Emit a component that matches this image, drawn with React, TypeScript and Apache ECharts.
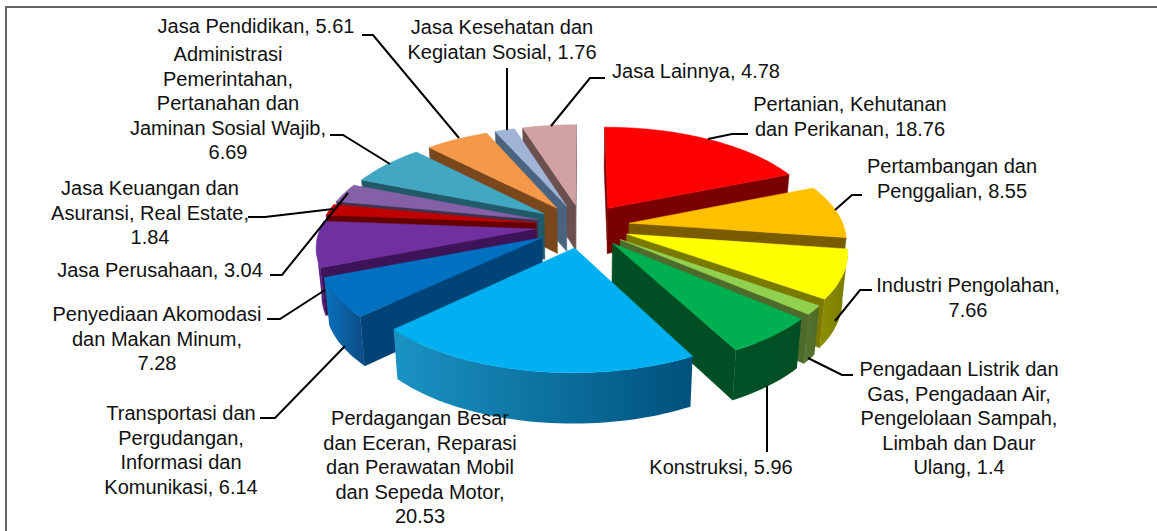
import React, { useEffect, useRef } from "react";
import * as echarts from "echarts";

const categories = [
  "Pertanian, Kehutanan\ndan Perikanan, ",
  "Pertambangan dan\nPenggalian, ",
  "Industri Pengolahan,\n",
  "Pengadaan Listrik dan\nGas, Pengadaan Air,\nPengelolaan Sampah,\nLimbah dan Daur\nUlang, ",
  "Konstruksi, ",
  "Perdagangan Besar\ndan Eceran, Reparasi\ndan Perawatan Mobil\ndan Sepeda Motor,\n",
  "Transportasi dan\nPergudangan,\nInformasi dan\nKomunikasi, ",
  "Penyediaan Akomodasi\ndan Makan Minum,\n",
  "Jasa Keuangan dan\nAsuransi, Real Estate,\n",
  "Jasa Perusahaan, ",
  "Administrasi\nPemerintahan,\nPertanahan dan\nJaminan Sosial Wajib,\n",
  "Jasa Pendidikan, ",
  "Jasa Kesehatan dan\nKegiatan Sosial, ",
  "Jasa Lainnya, ",
];
const values = [18.76, 8.55, 7.66, 1.4, 5.96, 20.53, 6.14, 7.28, 1.84, 3.04, 6.69, 5.61, 1.76, 4.78];
const topColors = ["#FF0000", "#FFC000", "#FFFF00", "#92D050", "#00B050", "#00B0F0", "#0070C0", "#7030A0", "#C00000", "#8460A6", "#42A7C3", "#F49849", "#A0B4D6", "#D0A2A2"];
const innerColors = ["#7A0000", "#7A5C00", "#7A7A00", "#4F6B2B", "#004F24", "#005A80", "#004376", "#3D1458", "#640000", "#40324F", "#215A68", "#7A471C", "#4A6480", "#6C4F4F"];
const outerFrom = ["#7A0000", "#7A5C00", "#8E8E00", "#56742F", "#005028", "#1A93C4", "#0A72BE", "#5E2388", "#FF0000", "#40324F", "#215A68", "#7A471C", "#4A6480", "#6C4F4F"];
const outerTo = ["#7A0000", "#7A5C00", "#7A7A00", "#4F6B2B", "#004F24", "#00517C", "#0B4C84", "#4A1A70", "#C00000", "#40324F", "#215A68", "#7A471C", "#4A6480", "#6C4F4F"];

const labelBoxes = [
  [850, 92], [952, 154], [968, 273], [959, 357], [721, 455], [420, 406], [181, 401], [157, 302], [150, 176], [160, 258], [228, 42], [256, 14], [502, 15], [696, 59],
];
const leaderLines = [
  [[748, 134], [732, 134], [708, 139]],
  [[862, 195], [852, 195], [835, 210]],
  [[872, 290], [860, 290], [835, 321]],
  [[853, 375], [842, 375], [808, 358]],
  [[767, 452], [767, 386]],
  [[260, 418], [275, 418], [345, 346]],
  [[267, 319], [280, 319], [325, 290]],
  [[270, 275], [282, 275], [348, 193]],
  [[248, 217], [265, 217], [333, 209]],
  [[330, 135], [343, 135], [390, 164]],
  [[362, 35], [373, 35], [459, 138]],
  [[507, 68], [507, 130]],
  [[605, 78], [590, 78], [551, 126]],
];

const CX = 582.4, CY = 225.8, RX = 214.5, RY = 98.4, K = 0.152, EXPLODE = 0.22;
const total = values.reduce((a, b) => a + b, 0);
const starts: number[] = [];
values.reduce((acc, v, i) => { starts[i] = acc; return acc + v; }, 0);
const toAngle = (v: number) => (v / total) * Math.PI * 2;
const project = (X: number, Y: number, bottom: boolean): number[] => {
  const s = 1 / (1 - K * Y);
  return [
    CX + RX * X * s * (bottom ? 0.98 : 1),
    CY + RY * Y * s + (bottom ? 46 + 4 * Y : 0),
  ];
};
const mids = values.map((v, i) => toAngle(starts[i] + v / 2));
const order = values.map((_, i) => i).sort((a, b) => -Math.cos(mids[a]) - -Math.cos(mids[b]));

const renderSlice = (params: any, api: any) => {
  const i = params.dataIndex;
  const value = api.value(0);
  const a0 = toAngle(starts[i]);
  const a1 = a0 + toAngle(value);
  const m = (a0 + a1) / 2;
  const ox = EXPLODE * Math.sin(m), oy = -EXPLODE * Math.cos(m);
  const pt = (r: number, t: number, bottom: boolean) =>
    project(ox + r * Math.sin(t), oy - r * Math.cos(t), bottom);
  const steps = Math.max(4, Math.ceil((a1 - a0) / 0.03));
  const angles: number[] = [];
  for (let k = 0; k <= steps; k++) angles.push(a0 + ((a1 - a0) * k) / steps);
  const arcTop = angles.map((t) => pt(1, t, false));
  const apex = pt(0, 0, false);
  const apexB = pt(0, 0, true);
  const rank = order.indexOf(i) * 10;
  const children: any[] = [];
  const poly = (points: number[][], fill: any, z2: number) => {
    const stroke = typeof fill === "string" ? fill : "none";
    children.push({ type: "polygon", shape: { points }, style: { fill, stroke, lineWidth: 0.5 }, z2: rank + z2 });
  };
  const faces = (u: number[], v: number[], inside: number[]) => {
    const dx = v[0] - u[0], dy = v[1] - u[1];
    const crossIn = dx * (inside[1] - u[1]) - dy * (inside[0] - u[0]);
    const crossDown = dx * 1;
    return crossIn * crossDown < 0;
  };
  const midOuter = pt(1, m, false);
  if (faces(apex, arcTop[0], midOuter)) {
    poly([apex, arcTop[0], pt(1, a0, true), apexB], innerColors[i], 1);
  }
  if (faces(apex, arcTop[steps], midOuter)) {
    poly([apex, arcTop[steps], pt(1, a1, true), apexB], innerColors[i], 1);
  }
  let run: number[] = [];
  const flush = () => {
    if (run.length > 1) {
      const top = run.map((k) => arcTop[k]);
      const bot = run.map((k) => pt(1, angles[k], true)).reverse();
      poly(top.concat(bot), {
        type: "linear", x: 0, y: 0, x2: 1, y2: 0,
        colorStops: [{ offset: 0, color: outerFrom[i] }, { offset: 1, color: outerTo[i] }],
      }, 2);
    }
    run = [];
  };
  for (let k = 0; k < steps; k++) {
    if (faces(arcTop[k], arcTop[k + 1], apex)) {
      if (!run.length) run.push(k);
      run.push(k + 1);
    } else flush();
  }
  flush();
  poly([apex].concat(arcTop), topColors[i], 3);
  return { type: "group", children };
};

const FONT = '"Liberation Sans", sans-serif';

export default function App() {
  const ref = useRef<HTMLDivElement>(null);
  useEffect(() => {
    document.body.style.margin = "0";
    const chart = echarts.init(ref.current!, undefined, { renderer: "svg" });
    const elements: any[] = [
      { type: "line", shape: { x1: 5, y1: 7, x2: 1157, y2: 7 }, style: { stroke: "#666", lineWidth: 2 }, z: 1 },
      { type: "line", shape: { x1: 6, y1: 6, x2: 6, y2: 531 }, style: { stroke: "#666", lineWidth: 2 }, z: 1 },
    ];
    leaderLines.forEach((points) => {
      elements.push({ type: "polyline", shape: { points }, style: { fill: "none", stroke: "#000", lineWidth: 2 }, z: 10 });
    });
    categories.forEach((c, i) => {
      elements.push({
        type: "text", x: labelBoxes[i][0], y: labelBoxes[i][1], z: 11,
        style: { text: c + values[i], fill: "#111", font: `20px ${FONT}`, align: "center", verticalAlign: "top", lineHeight: 24.5 },
      });
    });
    chart.setOption({
      animation: false,
      backgroundColor: "#fff",
      graphic: { elements },
      series: [{
        type: "custom", coordinateSystem: "none", silent: true, clip: false,
        data: values.map((v) => [v]), renderItem: renderSlice,
      }],
    });
    return () => chart.dispose();
  }, []);
  return <div ref={ref} style={{ width: 1157, height: 531 }} />;
}
